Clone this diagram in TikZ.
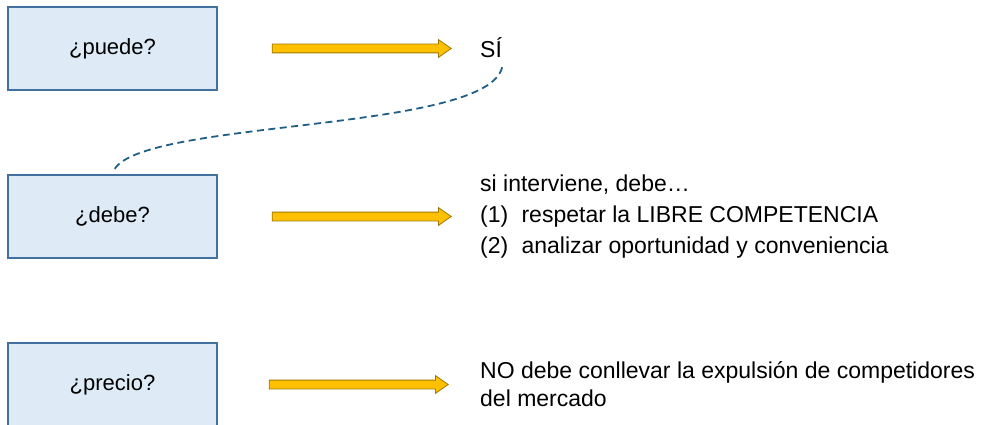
\documentclass[tikz,border=0pt]{standalone}
\usepackage{fontspec}
\setmainfont{Liberation Sans}
\usetikzlibrary{shapes.arrows, positioning}
\definecolor{boxfill}{RGB}{222,235,247}
\definecolor{boxline}{RGB}{65,113,156}
\definecolor{arrowfill}{RGB}{255,192,0}
\definecolor{arrowline}{RGB}{160,120,0}
\definecolor{curveblue}{RGB}{31,95,133}

\begin{document}
\begin{tikzpicture}[x=1pt, y=-1pt,
  question/.style={draw=boxline, fill=boxfill, line width=1.5pt,
    minimum width=209pt, minimum height=83pt, inner sep=0pt,
    font=\fontsize{22}{26}\selectfont},
  answer/.style={anchor=west, inner sep=0pt, align=left,
    font=\fontsize{23}{31}\selectfont},
  yellowarrow/.style={single arrow, draw=arrowline, fill=arrowfill,
    line width=0.8pt, minimum height=179pt, minimum width=17pt,
    inner sep=4pt, single arrow head extend=4.5pt,
    single arrow tip angle=70, anchor=west},
  dashcurve/.style={draw=curveblue, line width=1.8pt,
    dash pattern=on 7pt off 4.5pt}]

\clip (0,0) rectangle (987,425);
\useasboundingbox (0,0) rectangle (987,425);

% left boxes
\node[question] (puede)  at (112.5,48.5)  {¿puede?};
\node[question] (debe)   at (112.5,216.5) {¿debe?};
\node[question] (precio) at (112.5,384.5) {¿precio?};

% arrows
\node[yellowarrow, right=54pt of puede]  (arrowpuede)  {};
\node[yellowarrow, right=54pt of debe]   (arrowdebe)   {};
\node[yellowarrow, right=51pt of precio] (arrowprecio) {};

% answers
\node[answer] (si) at (480,48) {SÍ};
\node[answer] (interviene) at (480,217)
  {si interviene, debe…\\
   (1)\hspace{0.3em} respetar la LIBRE COMPETENCIA\\
   (2)\hspace{0.3em} analizar oportunidad y conveniencia};
\node[answer, font=\fontsize{23}{28}\selectfont] (expulsion) at (480,384)
  {NO debe conllevar la expulsión de competidores\\del mercado};

% link from SI to debe
\coordinate (curvestart) at ([yshift=-9pt]si.south east);
\coordinate (curveend) at ([xshift=2pt, yshift=5pt]debe.north);
\draw[dashcurve] (curvestart) .. controls +(-15,65) and +(30,-50) .. (curveend);

\end{tikzpicture}
\end{document}
